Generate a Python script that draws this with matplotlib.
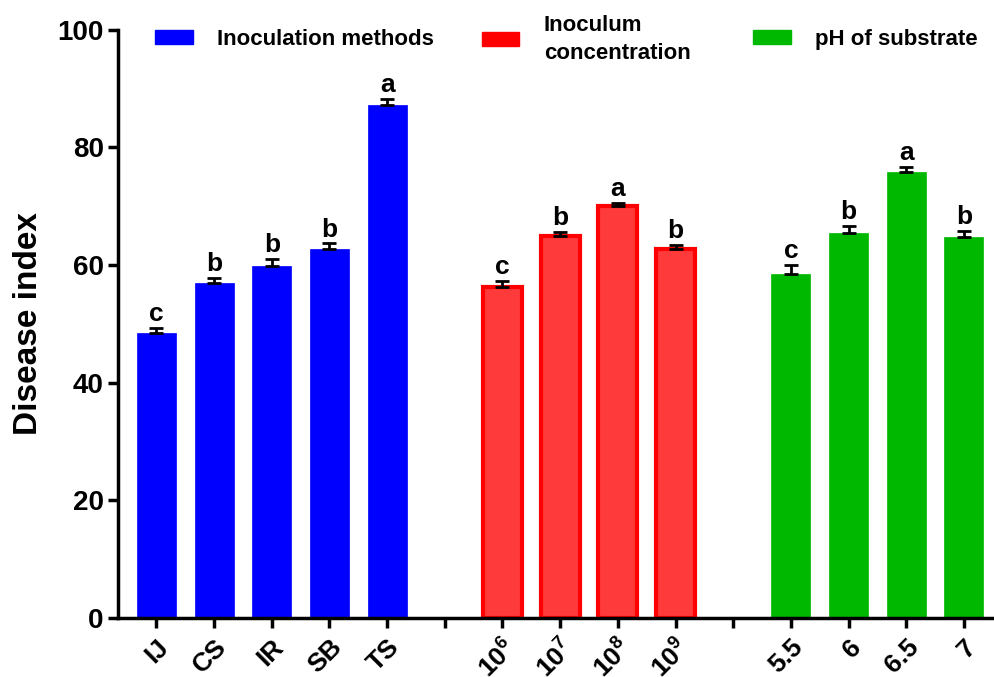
import matplotlib
matplotlib.use("Agg")
import matplotlib.pyplot as plt
from matplotlib.patches import Patch

plt.rcParams["font.family"] = ["Liberation Sans", "DejaVu Sans"]
plt.rcParams["font.weight"] = "bold"
plt.rcParams["mathtext.fontset"] = "custom"
plt.rcParams["mathtext.rm"] = "Liberation Sans:bold"
plt.rcParams["mathtext.bf"] = "Liberation Sans:bold"

# data
methods = ["IJ", "CS", "IR", "SB", "TS"]
methods_mean = [48.5, 57.0, 59.8, 62.7, 87.3]
methods_err = [0.8, 0.8, 1.3, 1.0, 1.0]
methods_letters = ["c", "b", "b", "b", "a"]

conc = [r"$\mathbf{10^{6}}$", r"$\mathbf{10^{7}}$", r"$\mathbf{10^{8}}$", r"$\mathbf{10^{9}}$"]
conc_mean = [56.3, 65.0, 70.0, 62.8]
conc_err = [1.0, 0.6, 0.6, 0.6]
conc_letters = ["c", "b", "a", "b"]

ph = ["5.5", "6", "6.5", "7"]
ph_mean = [58.5, 65.5, 75.9, 64.8]
ph_err = [1.5, 1.2, 0.8, 1.0]
ph_letters = ["c", "b", "a", "b"]

groups = [
    (methods, methods_mean, methods_err, methods_letters, "#0000ff", "#0000ff", "Inoculation methods"),
    (conc, conc_mean, conc_err, conc_letters, "#ff3a3a", "#ff0000", "Inoculum\nconcentration"),
    (ph, ph_mean, ph_err, ph_letters, "#00b800", "#00b800", "pH of substrate"),
]
# legend entry left edges, as figure fraction
legend_x = [0.156, 0.484, 0.757]

fig, ax = plt.subplots(figsize=(9.95, 6.77), dpi=100)
fig.subplots_adjust(left=0.119, right=1.0, bottom=0.087, top=0.956)

ticks = []
labels = []
pos = 0
for i, (names, means, errs, letters, face, edge, label) in enumerate(groups):
    xs = list(range(pos, pos + len(names)))
    ax.bar(xs, means, width=0.68, color=face, edgecolor=edge,
           linewidth=3 if face != edge else 0.5, zorder=2)
    ax.errorbar(xs, means, yerr=[[0] * len(errs), errs], fmt="none",
                ecolor="black", elinewidth=2, capsize=5, capthick=2, zorder=3)
    for x, m, e, t in zip(xs, means, errs, letters):
        ax.text(x, m + e + 0.3, t, ha="center", va="bottom",
                fontsize=19, fontweight="bold")
    ticks += xs
    labels += names
    if i < len(groups) - 1:
        ticks.append(pos + len(names))
        labels.append("")
    pos += len(names) + 1

    leg = fig.legend(handles=[Patch(facecolor=edge, edgecolor=edge, label=label)],
                     loc="center left", bbox_to_anchor=(legend_x[i], 0.942),
                     frameon=False, prop={"size": 16, "weight": "bold"},
                     borderpad=0, borderaxespad=0, handlelength=1.7,
                     handleheight=0.6, handletextpad=1.1)
    leg.get_texts()[0].set_linespacing(1.45)

ax.set_xticks(ticks)
ax.set_xticklabels(labels, rotation=45, ha="right", rotation_mode="anchor",
                   fontsize=19, fontweight="bold")
ax.set_xlim(-0.66, 14.54)
ax.set_ylim(0, 100)
ax.set_yticks([0, 20, 40, 60, 80, 100])
ax.tick_params(axis="y", labelsize=20, width=2.5, length=7)
ax.tick_params(axis="x", width=2.5, length=7, pad=5)
for lab in ax.get_yticklabels():
    lab.set_fontweight("bold")
ax.set_ylabel("Disease index", fontsize=24, fontweight="bold", labelpad=10)

for s in ["top", "right"]:
    ax.spines[s].set_visible(False)
for s in ["left", "bottom"]:
    ax.spines[s].set_linewidth(2.5)

fig.savefig("out.png", dpi=100)
